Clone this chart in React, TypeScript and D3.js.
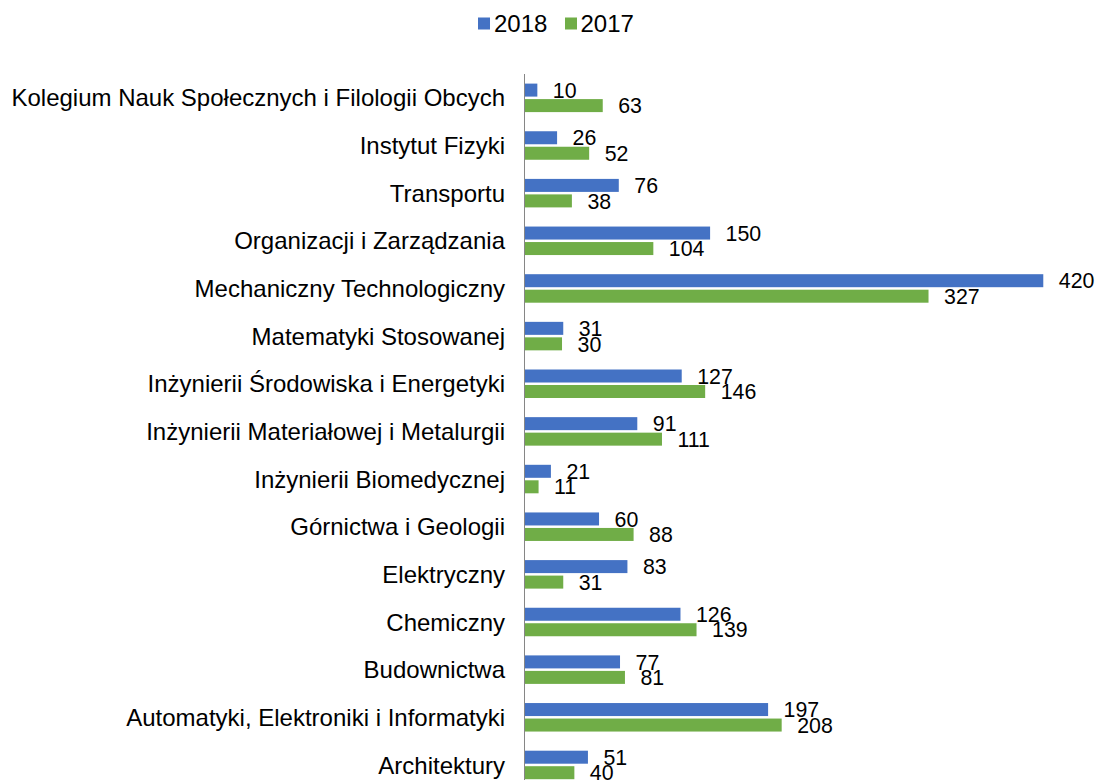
import * as d3 from "d3";

const categories = [
  "Kolegium Nauk Społecznych i Filologii Obcych",
  "Instytut Fizyki",
  "Transportu",
  "Organizacji i Zarządzania",
  "Mechaniczny Technologiczny",
  "Matematyki Stosowanej",
  "Inżynierii Środowiska i Energetyki",
  "Inżynierii Materiałowej i Metalurgii",
  "Inżynierii Biomedycznej",
  "Górnictwa i Geologii",
  "Elektryczny",
  "Chemiczny",
  "Budownictwa",
  "Automatyki, Elektroniki i Informatyki",
  "Architektury",
];

const values2018 = [10, 26, 76, 150, 420, 31, 127, 91, 21, 60, 83, 126, 77, 197, 51];
const values2017 = [63, 52, 38, 104, 327, 30, 146, 111, 11, 88, 31, 139, 81, 208, 40];

const seriesNames = ["2018", "2017"];

const W = 1098;
const H = 780;
const FONT = "'Liberation Sans', Arial, sans-serif";
const COLORS: Record<string, string> = { "2018": "#4472C4", "2017": "#70AD47" };

export default function App() {
  const x = d3.scaleLinear().domain([0, 450]).range([525, 525 + 450 * 1.234]);
  const y = d3.scaleBand<string>().domain(categories).range([74, 74 + 15 * 47.65]);
  const inner = d3
    .scaleBand<string>()
    .domain(seriesNames)
    .range([9.6, 38.1])
    .paddingInner(0.161);

  const series = [
    { name: "2018", values: values2018 },
    { name: "2017", values: values2017 },
  ];

  return (
    <svg
      width={W}
      height={H}
      style={{ position: "absolute", left: 0, top: 0, background: "#fff" }}
      fontFamily={FONT}
    >
      {/* legend */}
      <g>
        <rect x={478} y={17.5} width={12} height={12} fill={COLORS["2018"]} />
        <text x={494} y={31.5} fontSize={24} fill="#000">2018</text>
        <rect x={565} y={17.5} width={12} height={12} fill={COLORS["2017"]} />
        <text x={580.5} y={31.5} fontSize={24} fill="#000">2017</text>
      </g>

      {/* category labels */}
      {categories.map((c) => (
        <text
          key={c}
          x={505}
          y={(y(c) ?? 0) + y.bandwidth() / 2 + 8.6}
          fontSize={24}
          textAnchor="end"
          fill="#000"
        >
          {c}
        </text>
      ))}

      {/* bars */}
      {series.map((s) => (
        <g key={s.name}>
          {s.values.map((v, i) => {
            const by = (y(categories[i]) ?? 0) + (inner(s.name) ?? 0);
            return (
              <rect
                key={i}
                x={x(0)}
                y={by}
                width={x(v) - x(0)}
                height={inner.bandwidth()}
                fill={COLORS[s.name]}
              />
            );
          })}
        </g>
      ))}

      {/* value labels */}
      {series.map((s) => (
        <g key={"l" + s.name}>
          {s.values.map((v, i) => {
            const cy = (y(categories[i]) ?? 0) + (inner(s.name) ?? 0) + inner.bandwidth() / 2;
            return (
              <text key={i} x={x(v) + 15.5} y={cy + 7.7} fontSize={21.33} fill="#000">
                {v}
              </text>
            );
          })}
        </g>
      ))}

      {/* axis line */}
      <line x1={524.5} x2={524.5} y1={74} y2={H} stroke="#868686" strokeWidth={1} />
    </svg>
  );
}
